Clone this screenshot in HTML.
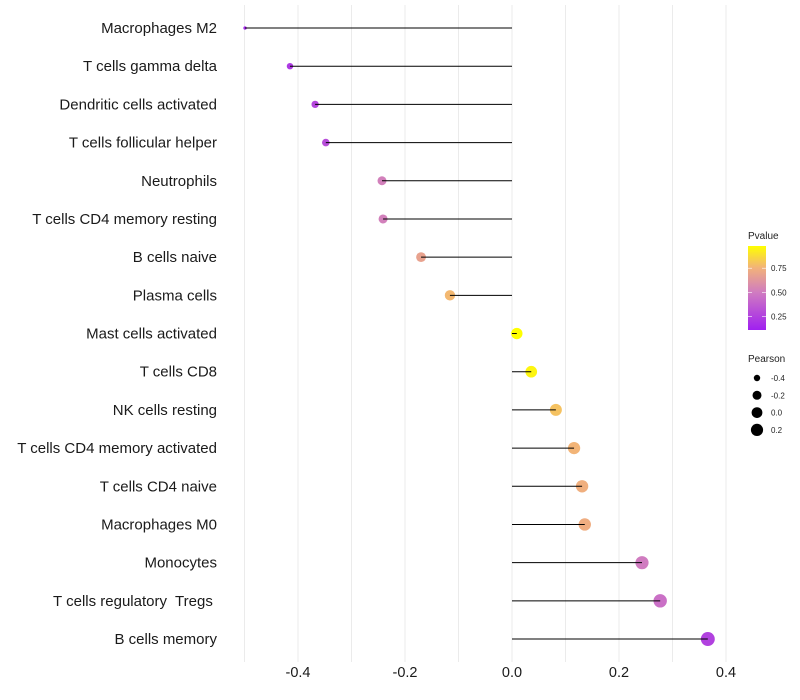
<!DOCTYPE html>
<html><head><meta charset="utf-8"><style>
body{margin:0;background:#fff;}
svg{display:block;font-family:"Liberation Sans",sans-serif;}
</style></head><body>
<svg id="chart" width="800" height="700" xmlns="http://www.w3.org/2000/svg">
<g id="grid"></g>
<g id="points"></g>
<g id="segs"></g>
<g id="ylab"></g>
<g id="xlab"></g>
<g>
<defs><linearGradient id="pg" x1="0" y1="1" x2="0" y2="0">
<stop offset="0" stop-color="#a020f0"/><stop offset="0.45" stop-color="#d07cc0"/><stop offset="0.74" stop-color="#f2b27a"/><stop offset="1" stop-color="#ffff00"/></linearGradient></defs>
<text x="748" y="239" font-size="10" fill="#222">Pvalue</text>
<rect x="748" y="246" width="18" height="84" fill="url(#pg)"/>
<g id="cbt"></g>
</g>
<g>
<text x="748" y="362" font-size="10" fill="#222">Pearson</text>
<g id="sizeleg"></g>
</g>
</svg>
<script>
const categories=["Macrophages M2","T cells gamma delta","Dendritic cells activated","T cells follicular helper","Neutrophils","T cells CD4 memory resting","B cells naive","Plasma cells","Mast cells activated","T cells CD8","NK cells resting","T cells CD4 memory activated","T cells CD4 naive","Macrophages M0","Monocytes","T cells regulatory  Tregs ","B cells memory"];
const pearson=[-0.499,-0.415,-0.368,-0.348,-0.243,-0.241,-0.170,-0.116,0.009,0.036,0.082,0.116,0.131,0.136,0.243,0.277,0.366];
const pvalue=[0.14,0.22,0.27,0.30,0.52,0.52,0.68,0.77,0.98,0.95,0.80,0.76,0.74,0.73,0.50,0.45,0.25];
const xTicks=[-0.4,-0.2,0.0,0.2,0.4];
const xTickLabels=["-0.4","-0.2","0.0","0.2","0.4"];
const gridVals=[-0.5,-0.4,-0.3,-0.2,-0.1,0,0.1,0.2,0.3,0.4];
const cbTicks=[0.25,0.5,0.75];
const cbLabels=["0.25","0.50","0.75"];
const sizeVals=[-0.4,-0.2,0.0,0.2];
const sizeLabels=["-0.4","-0.2","0.0","0.2"];

const NS="http://www.w3.org/2000/svg";
const xs=v=>512+v*535;
const ys=i=>28+i*38.19;
const rs=v=>1.5+5.5*Math.sqrt(Math.max(0,(v+0.5)/0.87));
const pMin=0.11,pMax=0.98;
const stops=[[0,[160,32,240]],[0.45,[208,124,192]],[0.74,[242,178,122]],[1,[255,255,0]]];
function col(p){let t=Math.max(0,Math.min(1,(p-pMin)/(pMax-pMin)));
 for(let k=0;k<stops.length-1;k++){const[a,ca]=stops[k],[b,cb]=stops[k+1];if(t<=b){const f=(t-a)/(b-a);return`rgb(${ca.map((c,j)=>Math.round(c+(cb[j]-c)*f)).join(",")})`;}}return"rgb(255,255,0)";}
function mk(tag,attrs,parent){const e=document.createElementNS(NS,tag);for(const k in attrs)e.setAttribute(k,attrs[k]);parent.appendChild(e);return e;}
const grid=document.getElementById("grid");
gridVals.forEach(g=>{const l=mk("line",{x1:xs(g),x2:xs(g),y1:5,y2:662,stroke:"#ebebeb","stroke-width":1},grid);

});
const pts=document.getElementById("points"),segs=document.getElementById("segs"),yl=document.getElementById("ylab");
categories.forEach((c,i)=>{
 const y=ys(i);
 const ci=mk("circle",{cx:xs(pearson[i]),cy:y,r:rs(pearson[i]),fill:col(pvalue[i])},pts);
 
 
 const s=mk("line",{x1:xs(0),x2:xs(pearson[i]),y1:y,y2:y,stroke:"#000","stroke-width":1},segs);
 
 
 const t=mk("text",{x:217,y:y+5,"text-anchor":"end","font-size":15,fill:"#1a1a1a"},yl);
 
 
 t.setAttribute('xml:space','preserve');t.style.whiteSpace='pre';
 t.textContent=c;
});
const xl=document.getElementById("xlab");
xTicks.forEach((v,i)=>{const t=mk("text",{x:xs(v),y:677,"text-anchor":"middle","font-size":14.5,fill:"#1a1a1a"},xl);


t.textContent=xTickLabels[i];});
const cbt=document.getElementById("cbt");
cbTicks.forEach((v,i)=>{const y=330-(v-pMin)/(pMax-pMin)*84;
const l=mk("line",{x1:748,x2:752,y1:y,y2:y,stroke:"#fff","stroke-width":0.6},cbt);


const l2=mk("line",{x1:762,x2:766,y1:y,y2:y,stroke:"#fff","stroke-width":0.6},cbt);


const t=mk("text",{x:771,y:y+3,"font-size":8,fill:"#222"},cbt);


t.textContent=cbLabels[i];});
const sl=document.getElementById("sizeleg");
sizeVals.forEach((v,i)=>{const y=378+i*17.3;
const c=mk("circle",{cx:757,cy:y,r:rs(v)*0.95,fill:"#000"},sl);


const t=mk("text",{x:771,y:y+3,"font-size":8,fill:"#222"},sl);


t.textContent=sizeLabels[i];});
</script>
</body></html>
